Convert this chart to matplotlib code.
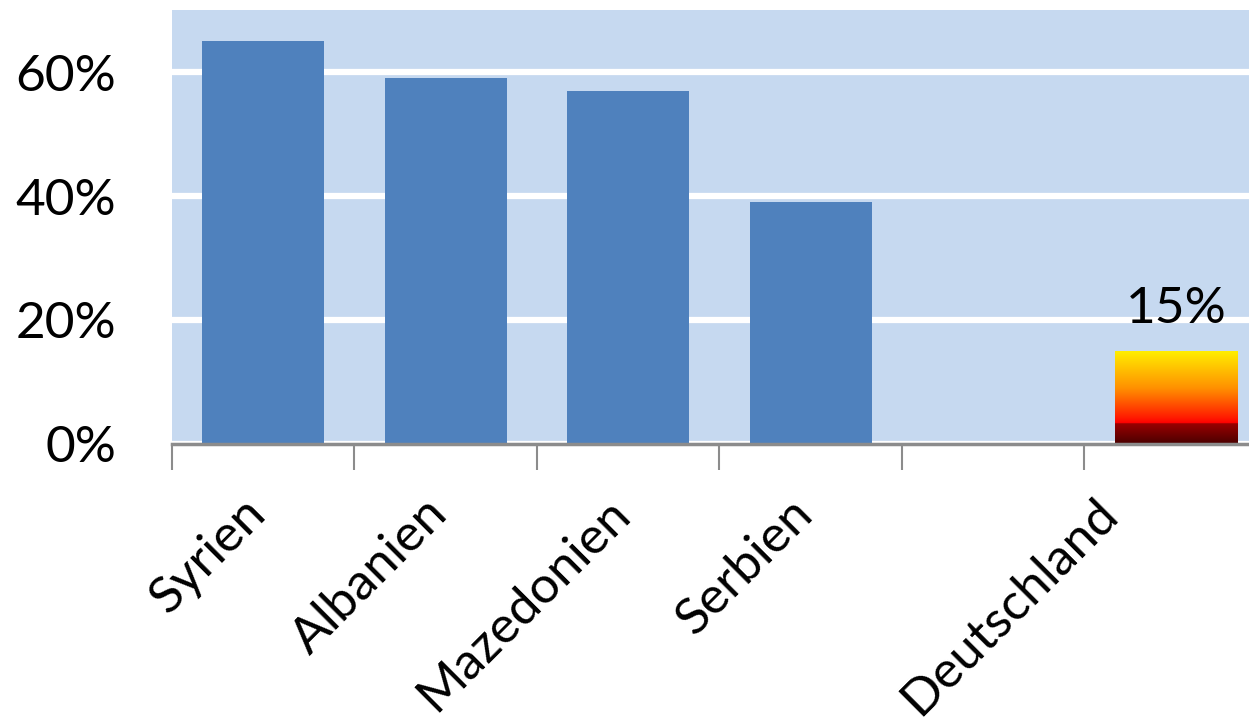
import numpy as np
import matplotlib.pyplot as plt
from matplotlib.colors import LinearSegmentedColormap
from matplotlib.ticker import PercentFormatter, FixedLocator
from matplotlib.transforms import ScaledTranslation

plt.rcParams['font.family'] = ['Lato', 'DejaVu Sans']

countries = ['Syrien', 'Albanien', 'Mazedonien', 'Serbien', '', 'Deutschland']
shares = [65, 59, 57, 39, np.nan, 15]
yticks = [0, 20, 40, 60]

bg = '#C6D9F0'
bar_blue = '#4F81BD'

fig = plt.figure(figsize=(12.49, 7.23), dpi=100)
ax = fig.add_axes([0.1377, 0.386, 0.8767, 0.600])
ax.set_facecolor(bg)

x = np.arange(len(countries))
bars = ax.bar(x[:5], shares[:5], width=0.67, color=bar_blue, zorder=3)

# Deutschland bar gets a black-red-gold gradient fill
de = ax.bar(x[5], shares[5], width=0.67, color='none', zorder=3)[0]
flag = LinearSegmentedColormap.from_list('flag', [
    (0.0, '#4a0000'), (0.22, '#9a0000'), (0.225, '#ff0000'),
    (0.28, '#ff1a00'), (0.6, '#ff9000'), (1.0, '#ffee00')])
grad = np.linspace(0, 1, 256).reshape(-1, 1)
img = ax.imshow(grad, cmap=flag, origin='lower', aspect='auto', zorder=3,
                extent=(de.get_x(), de.get_x() + de.get_width(), 0, de.get_height()))
img.set_clip_path(de)
ax.text(x[5], shares[5] + 3.0, f'{shares[5]:.0f}%', ha='center', va='bottom',
        fontsize=37, zorder=4)

ax.set_xlim(-0.5, len(countries) - 0.5)
ax.set_ylim(0, 70)
ax.set_yticks(yticks)
ax.yaxis.set_major_formatter(PercentFormatter(decimals=0))
ax.yaxis.grid(True, color='white', linewidth=4.5, zorder=1)
ax.set_axisbelow(True)

for s in ['top', 'right', 'left']:
    ax.spines[s].set_visible(False)
ax.spines['bottom'].set_color('#8c8c8c')
ax.spines['bottom'].set_linewidth(2.5)
ax.spines['bottom'].set_zorder(5)

ax.tick_params(axis='y', length=0, labelsize=37, pad=40)
for lbl in ax.get_yticklabels():
    lbl.set_horizontalalignment('right')

ax.set_xticks(x)
ax.set_xticklabels(countries, rotation=45, ha='right', rotation_mode='anchor',
                   fontsize=37)
ax.tick_params(axis='x', which='major', length=0, pad=33)
ax.xaxis.set_minor_locator(FixedLocator(np.arange(-0.5, len(countries), 1.0)))
ax.tick_params(axis='x', which='minor', length=19, width=1.5, color='#8c8c8c')

# nudge the rotated labels left; the last one sits further left of its slot
for i, lbl in enumerate(ax.get_xticklabels()):
    dx = -0.82 if i == len(countries) - 1 else -0.22
    lbl.set_transform(lbl.get_transform() + ScaledTranslation(dx, 0, fig.dpi_scale_trans))

fig.savefig('out.png', dpi=100, facecolor='white')
